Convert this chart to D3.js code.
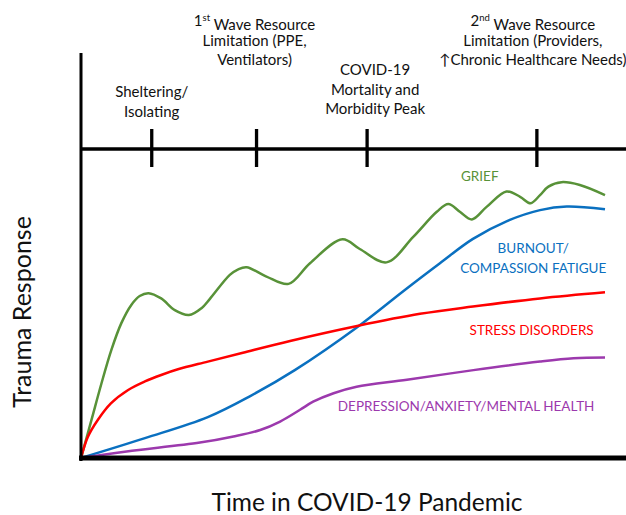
<!DOCTYPE html>
<html>
<head>
<meta charset="utf-8">
<script src="https://cdn.jsdelivr.net/npm/d3@7"></script>
<style>
  body { margin: 0; background: #fff; }
  text { font-family: Lato, "Open Sans", sans-serif; }
</style>
</head>
<body>
<div class="chart"></div>
<script>
// time runs 0..100 along the pandemic, trauma response 0..100
var griefT = [0, 2.0, 3.9, 5.8, 7.7, 9.6, 11.2, 12.9, 15.3, 17.9, 20.6, 23.0, 24.6, 28.4, 30.0, 31.6, 35.4, 39.6, 43.7, 49.9, 53.2, 58.3, 63.4, 67.9, 70.1, 72.3, 74.6, 77.4, 81.2, 83.8, 85.8, 87.6, 89.2, 91.7, 95.2, 100];
var griefV = [0, 9.4, 18.4, 26.7, 33.3, 37.8, 40.0, 40.7, 39.4, 36.5, 35.3, 37.0, 39.3, 45.2, 46.6, 47.1, 44.8, 43.0, 48.1, 54.0, 51.6, 48.3, 54.6, 60.8, 62.7, 60.8, 58.9, 62.0, 65.8, 64.5, 62.9, 64.9, 67.0, 68.1, 67.4, 64.9];

var burnoutT = [0, 12.2, 24.2, 32.3, 40.8, 52.7, 61.8, 68.5, 74.8, 81.3, 87.6, 92.7, 100];
var burnoutV = [0, 4.9, 10.1, 15.3, 21.7, 32.3, 41.5, 48.1, 54.1, 58.5, 61.2, 62.1, 61.4];

var stressT = [0, 1.3, 3.2, 5.7, 9.0, 12.2, 15.3, 18.5, 24.2, 30.9, 39.9, 52.7, 64.7, 74.8, 87.6, 100];
var stressV = [0, 5.2, 9.4, 13.5, 16.8, 18.9, 20.5, 21.9, 23.8, 26.0, 28.9, 32.6, 35.6, 37.4, 39.4, 40.9];

var depressionT = [0, 8.7, 22.7, 29.1, 34.2, 38.0, 41.8, 44.3, 48.2, 52.6, 62.2, 74.9, 87.6, 94.0, 100];
var depressionV = [0, 1.6, 3.8, 5.3, 6.9, 9.0, 11.9, 13.9, 16.0, 17.6, 19.3, 21.7, 23.8, 24.6, 24.8];

var eventT = [13.5, 33.5, 54.6, 87.0];
var eventLabels = [
  ['Sheltering/', 'Isolating'],
  ['1|st| Wave Resource', 'Limitation (PPE,', 'Ventilators)'],
  ['COVID-19', 'Mortality and', 'Morbidity Peak'],
  ['2|nd| Wave Resource', 'Limitation (Providers,', '\u2191Chronic Healthcare Needs)']
];

var seriesNames = ['GRIEF', 'BURNOUT/|COMPASSION FATIGUE', 'STRESS DISORDERS', 'DEPRESSION/ANXIETY/MENTAL HEALTH'];
var seriesColors = ['#589238', '#0a70c0', '#ff0000', '#9c39ad'];

var W = 626, H = 515;

var svg = d3.select('.chart').append('svg')
  .attr('width', W)
  .attr('height', H);

var x = d3.scaleLinear().domain([0, 100]).range([81, 605]);
var y = d3.scaleLinear().domain([0, 100]).range([458, 53]);

var series = [
  d3.zip(griefT, griefV),
  d3.zip(burnoutT, burnoutV),
  d3.zip(stressT, stressV),
  d3.zip(depressionT, depressionV)
];

var line = d3.line()
  .x(function(d) { return x(d[0]); })
  .y(function(d) { return y(d[1]); })
  .curve(d3.curveCatmullRom.alpha(0.5));

svg.selectAll('.curve')
  .data(series)
  .enter().append('path')
    .attr('class', 'curve')
    .attr('fill', 'none')
    .attr('stroke', function(d, i) { return seriesColors[i]; })
    .attr('stroke-width', 2.5)
    .attr('d', line);

// axes
svg.append('line')
  .attr('x1', x(0)).attr('x2', x(0))
  .attr('y1', y(100)).attr('y2', 461)
  .attr('stroke', '#000').attr('stroke-width', 3);

svg.append('line')
  .attr('x1', 79).attr('x2', W)
  .attr('y1', y(0)).attr('y2', y(0))
  .attr('stroke', '#000').attr('stroke-width', 5);

// timeline of events
var timeY = 149;
svg.append('line')
  .attr('x1', x(0)).attr('x2', W)
  .attr('y1', timeY).attr('y2', timeY)
  .attr('stroke', '#000').attr('stroke-width', 3.5);

svg.selectAll('.tick')
  .data(eventT)
  .enter().append('line')
    .attr('class', 'tick')
    .attr('x1', function(d) { return x(d); })
    .attr('x2', function(d) { return x(d); })
    .attr('y1', 129).attr('y2', 167)
    .attr('stroke', '#000').attr('stroke-width', 3.3);

// event label placement (dx from tick, first line y)
var evDx = [0, -2, 8, -4];
var evTop = [92, 21, 70, 21];

eventLabels.forEach(function(lines, i) {
  var t = svg.append('text')
    .attr('text-anchor', 'middle')
    .attr('font-size', 15)
    .attr('fill', '#111');
  lines.forEach(function(s, j) {
    var ln = t.append('tspan')
      .attr('x', x(eventT[i]) + evDx[i])
      .attr('y', evTop[i] + j * 19.5)
      .attr('dy', '0.35em');
    var parts = s.split('|');
    if (parts.length > 1) {
      ln.append('tspan').text(parts[0]);
      ln.append('tspan').attr('font-size', 9.5).attr('dy', '-0.6em').text(parts[1]);
      ln.append('tspan').attr('dy', '0.6em').text(parts[2]);
    } else {
      ln.text(s);
    }
  });
});

// series labels
var labT = [76.1, 86.3, 86.0, 73.5];
var labV = [69.6, 51.7, 31.6, 12.8];

seriesNames.forEach(function(name, i) {
  var t = svg.append('text')
    .attr('text-anchor', 'middle')
    .attr('font-size', 13.5)
    .attr('fill', seriesColors[i]);
  name.split('|').forEach(function(s, j) {
    t.append('tspan')
      .attr('x', x(labT[i]))
      .attr('y', y(labV[i]) + j * 20)
      .attr('dy', '0.35em')
      .text(s);
  });
});

// axis titles
svg.append('text')
  .attr('transform', 'translate(31,312) rotate(-90)')
  .attr('text-anchor', 'middle')
  .attr('font-size', 25)
  .attr('fill', '#111')
  .text('Trauma Response');

svg.append('text')
  .attr('x', 367)
  .attr('y', 511)
  .attr('text-anchor', 'middle')
  .attr('font-size', 24.5)
  .attr('fill', '#111')
  .text('Time in COVID-19 Pandemic');
</script>
</body>
</html>
